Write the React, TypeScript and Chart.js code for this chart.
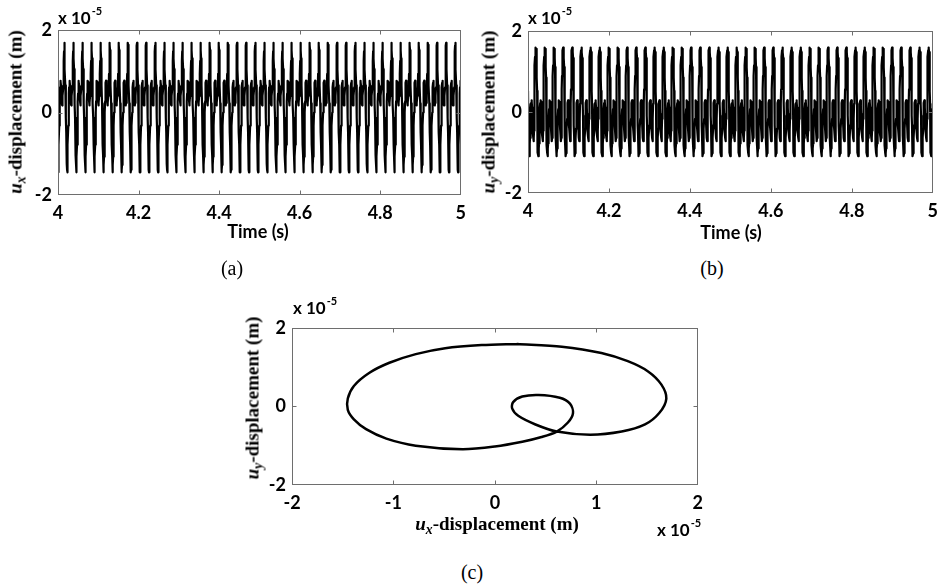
import React, { useEffect, useRef } from "react";
import { Chart, registerables } from "chart.js";

Chart.register(...registerables);

// ---- Data (displacements in units of 1e-5 m) ----
// One cycle of the steady orbit, read along the curve of panel (c), in travel order
const orbitUx = [0.22, -0.13, -0.49, -0.78, -1.04, -1.24, -1.39, -1.45, -1.45, -1.39, -1.27, -1.07, -0.78, -0.32, 0.0, 0.27, 0.46, 0.61, 0.72, 0.77, 0.74, 0.64, 0.43, 0.27, 0.18, 0.17, 0.23, 0.4, 0.61, 0.94, 1.25, 1.48, 1.62, 1.69, 1.64, 1.51, 1.31, 1.05, 0.66];
const orbitUy = [1.59, 1.56, 1.48, 1.33, 1.11, 0.85, 0.52, 0.2, -0.09, -0.33, -0.58, -0.82, -1.0, -1.09, -1.02, -0.9, -0.78, -0.64, -0.41, -0.17, 0.07, 0.22, 0.29, 0.25, 0.11, -0.05, -0.24, -0.46, -0.64, -0.72, -0.64, -0.46, -0.17, 0.2, 0.56, 0.89, 1.15, 1.36, 1.52];
// fraction of the period at which each orbit point is reached
const orbitPhase = [0, 0.031, 0.064, 0.091, 0.116, 0.136, 0.154, 0.167, 0.177, 0.188, 0.202, 0.222, 0.249, 0.291, 0.32, 0.344, 0.363, 0.377, 0.412, 0.438, 0.463, 0.49, 0.54, 0.579, 0.602, 0.618, 0.64, 0.684, 0.737, 0.767, 0.795, 0.817, 0.834, 0.848, 0.862, 0.879, 0.899, 0.924, 0.96];

// period read from the spacing of the peaks in (a) and (b)
const periodS = 0.02257;
const firstCycleStart = 3.9965;
const cycleCount = 46;

const timeTicks = [4, 4.2, 4.4, 4.6, 4.8, 5];
const dispTicks = [-2, 0, 2];
const orbitXTicks = [-2, -1, 0, 1, 2];
const orbitYTicks = [-2, 0, 2];

const seriesUx: { x: number; y: number }[] = [];
const seriesUy: { x: number; y: number }[] = [];
for (let k = 0; k < cycleCount; k++) {
  for (let i = 0; i < orbitPhase.length; i++) {
    const t = firstCycleStart + (k + orbitPhase[i]) * periodS;
    seriesUx.push({ x: t, y: orbitUx[i] });
    seriesUy.push({ x: t, y: orbitUy[i] });
  }
}
const orbitPoints = orbitUx.map((x, i) => ({ x, y: orbitUy[i] }));
orbitPoints.push({ x: orbitUx[0], y: orbitUy[0] });

// ---- Styling ----
const TICK_FONT = { family: "Lato", size: 18, weight: "bold" as const };
const SANS = 'Lato, "Open Sans", sans-serif';
const SERIF = '"Liberation Serif", "Times New Roman", serif';

const framePlugin = {
  id: "frame",
  afterDatasetsDraw(chart: any) {
    const { ctx, chartArea: a, scales } = chart;
    const L = Math.round(a.left) + 0.5;
    const R = Math.round(a.right) - 0.5;
    const T = Math.round(a.top) + 0.5;
    const B = Math.round(a.bottom) - 0.5;
    ctx.save();
    ctx.strokeStyle = "#6e6e6e";
    ctx.lineWidth = 1;
    ctx.strokeRect(L, T, R - L, B - T);
    const tl = 4;
    ctx.beginPath();
    scales.x.ticks.forEach((t: any) => {
      const p = Math.round(scales.x.getPixelForValue(t.value)) + 0.5;
      if (p <= L + 1 || p >= R - 1) return;
      ctx.moveTo(p, B);
      ctx.lineTo(p, B - tl);
      ctx.moveTo(p, T);
      ctx.lineTo(p, T + tl);
    });
    scales.y.ticks.forEach((t: any) => {
      const p = Math.round(scales.y.getPixelForValue(t.value)) + 0.5;
      if (p <= T + 1 || p >= B - 1) return;
      ctx.moveTo(L, p);
      ctx.lineTo(L + tl, p);
      ctx.moveTo(R, p);
      ctx.lineTo(R - tl, p);
    });
    ctx.stroke();
    ctx.restore();
  },
};

function fmt(v: number) {
  return String(Math.round(v * 10) / 10);
}

function buildConfig(
  data: { x: number; y: number }[],
  xMin: number,
  xMax: number,
  xTicks: number[],
  yTicks: number[],
  padTop: number,
  padRight: number,
  lineWidth: number,
  tension: number
): any {
  return {
    type: "scatter",
    data: {
      datasets: [
        {
          data,
          showLine: true,
          borderColor: "#000",
          backgroundColor: "#000",
          borderWidth: lineWidth,
          borderJoinStyle: "round",
          borderCapStyle: "round",
          pointRadius: 0,
          tension,
          fill: false,
        },
      ],
    },
    options: {
      responsive: false,
      animation: false,
      devicePixelRatio: 1,
      events: [],
      layout: { padding: { top: padTop, right: padRight, left: 0, bottom: 0 } },
      plugins: { legend: { display: false }, tooltip: { enabled: false } },
      scales: {
        x: {
          type: "linear",
          min: xMin,
          max: xMax,
          afterBuildTicks: (s: any) => {
            s.ticks = xTicks.map((v) => ({ value: v }));
          },
          afterFit: (s: any) => {
            s.height = 30;
          },
          grid: { display: false, drawTicks: false },
          border: { display: false },
          ticks: {
            font: TICK_FONT,
            color: "#000",
            padding: 7,
            maxRotation: 0,
            autoSkip: false,
            callback: (v: number) => fmt(v),
          },
        },
        y: {
          type: "linear",
          min: -2,
          max: 2,
          afterBuildTicks: (s: any) => {
            s.ticks = yTicks.map((v) => ({ value: v }));
          },
          afterFit: (s: any) => {
            s.width = 30;
          },
          grid: { display: false, drawTicks: false },
          border: { display: false },
          ticks: {
            font: TICK_FONT,
            color: "#000",
            padding: 6,
            autoSkip: false,
            callback: (v: number) => fmt(v),
          },
        },
      },
    },
    plugins: [framePlugin],
  };
}

function ChartCanvas(props: { left: number; top: number; width: number; height: number; build: () => any }) {
  const ref = useRef<HTMLCanvasElement | null>(null);
  useEffect(() => {
    const chart = new Chart(ref.current as HTMLCanvasElement, props.build());
    return () => chart.destroy();
  }, []);
  return (
    <canvas
      ref={ref}
      width={props.width}
      height={props.height}
      style={{ position: "absolute", left: props.left, top: props.top, width: props.width, height: props.height, display: "block" }}
    />
  );
}

function DispLabel({ sub }: { sub: string }) {
  return (
    <>
      <i>u</i>
      <i style={{ fontSize: "0.72em", position: "relative", top: "0.28em" }}>{sub}</i>
      -displacement (m)
    </>
  );
}

function YTitle({ cx, cy, sub }: { cx: number; cy: number; sub: string }) {
  return (
    <div
      style={{
        position: "absolute",
        left: cx,
        top: cy,
        transform: "translate(-50%, -50%) rotate(-90deg)",
        fontFamily: SERIF,
        fontWeight: "bold",
        fontSize: 19,
        lineHeight: 1,
        whiteSpace: "nowrap",
      }}
    >
      <DispLabel sub={sub} />
    </div>
  );
}

function CenterText({ cx, cy, children, family, size, weight }: any) {
  return (
    <div
      style={{
        position: "absolute",
        left: cx,
        top: cy,
        transform: "translate(-50%, -50%)",
        fontFamily: family,
        fontWeight: weight,
        fontSize: size,
        lineHeight: 1,
        whiteSpace: "nowrap",
      }}
    >
      {children}
    </div>
  );
}

function Exponent({ left, baseline }: { left: number; baseline: number }) {
  return (
    <div
      style={{
        position: "absolute",
        left,
        top: baseline - 15,
        fontFamily: SANS,
        fontWeight: "bold",
        fontSize: 17,
        lineHeight: 1,
        whiteSpace: "nowrap",
      }}
    >
      x 10<span style={{ fontSize: 11, position: "relative", top: -9, marginLeft: 1 }}>-5</span>
    </div>
  );
}

export default function App() {
  return (
    <div style={{ position: "absolute", left: 0, top: 0, width: 945, height: 587, background: "#fff", overflow: "hidden" }}>
      <ChartCanvas
        left={28}
        top={10}
        width={445}
        height={215}
        build={() => buildConfig(seriesUx, 4, 5, timeTicks, dispTicks, 20, 10, 2.2, 0)}
      />
      <ChartCanvas
        left={498}
        top={10}
        width={447}
        height={213}
        build={() => buildConfig(seriesUy, 4, 5, timeTicks, dispTicks, 21, 7, 2.2, 0)}
      />
      <ChartCanvas
        left={262}
        top={311}
        width={448}
        height={204}
        build={() => buildConfig(orbitPoints, -2, 2, orbitXTicks, orbitYTicks, 10, 10, 2.5, 0.3)}
      />

      <YTitle cx={15} cy={112} sub="x" />
      <YTitle cx={488} cy={112} sub="y" />
      <YTitle cx={252} cy={398} sub="y" />

      <CenterText cx={258} cy={231} family={SANS} size={18} weight="bold">Time (s)</CenterText>
      <CenterText cx={731} cy={232} family={SANS} size={18} weight="bold">Time (s)</CenterText>
      <CenterText cx={497} cy={523} family={SERIF} size={19} weight="bold">
        <DispLabel sub="x" />
      </CenterText>

      <Exponent left={58} baseline={24} />
      <Exponent left={528} baseline={24} />
      <Exponent left={293} baseline={314} />
      <Exponent left={657} baseline={536} />

      <CenterText cx={232} cy={268} family={SERIF} size={20} weight="normal">(a)</CenterText>
      <CenterText cx={712} cy={268} family={SERIF} size={20} weight="normal">(b)</CenterText>
      <CenterText cx={472} cy={572} family={SERIF} size={20} weight="normal">(c)</CenterText>
    </div>
  );
}
